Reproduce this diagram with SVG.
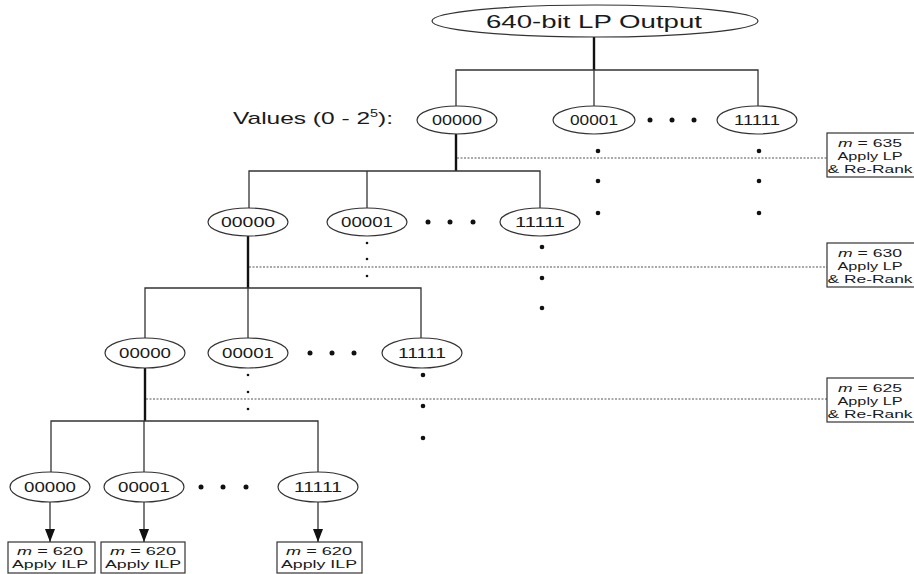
<svg xmlns="http://www.w3.org/2000/svg" width="914" height="574" viewBox="0 0 914 574">
  <style>
    text { font-family: "Liberation Sans", Arial, sans-serif; fill: #1a1a1a; }
    .node ellipse { fill: #ffffff; stroke: #333333; stroke-width: 1.2; }
    .val { font-size: 14px; text-anchor: middle; }
    .wire { stroke: #333333; stroke-width: 1.3; fill: none; }
    .thick { stroke: #111111; stroke-width: 2.4; fill: none; }
    .cut { stroke: #555555; stroke-width: 1; stroke-dasharray: 2 1.5; fill: none; }
    .box rect { fill: #ffffff; stroke: #333333; stroke-width: 1.2; }
    .lbl { font-size: 11.5px; text-anchor: middle; }
    .dot { fill: #111111; }
  </style>
  <defs>
    <!-- solid triangular arrowhead, tip at the end of the line -->
    <marker id="arrow" markerWidth="13" markerHeight="10" refX="13" refY="5" orient="auto" markerUnits="userSpaceOnUse" viewBox="0 0 13 10">
      <path d="M0,0 L13,5 L0,10 Z" fill="#111111"/>
    </marker>
  </defs>
  <rect width="914" height="574" fill="#ffffff"/>

  <!-- connectors -->
  <g id="connectors">
    <!-- root to level 1 -->
    <line class="thick" x1="594" y1="37" x2="594" y2="70"/>
    <polyline class="wire" points="456,106 456,70 758,70 758,106"/>
    <line class="wire" x1="594" y1="70" x2="594" y2="106"/>
    <!-- level 1 to level 2 -->
    <line class="thick" x1="456" y1="134" x2="456" y2="171"/>
    <polyline class="wire" points="249,208 249,171 540,171 540,208"/>
    <line class="wire" x1="367" y1="171" x2="367" y2="208"/>
    <!-- level 2 to level 3 -->
    <line class="thick" x1="248" y1="236" x2="248" y2="288"/>
    <polyline class="wire" points="145,338 145,288 421,288 421,338"/>
    <line class="wire" x1="248" y1="288" x2="248" y2="338"/>
    <!-- level 3 to level 4 -->
    <line class="thick" x1="145" y1="368" x2="145" y2="421"/>
    <polyline class="wire" points="51,472 51,421 318,421 318,472"/>
    <line class="wire" x1="144" y1="421" x2="144" y2="472"/>
    <!-- level 4 to ILP boxes -->
    <line class="wire" x1="50" y1="502" x2="50" y2="542" marker-end="url(#arrow)"/>
    <line class="wire" x1="144" y1="502" x2="144" y2="542" marker-end="url(#arrow)"/>
    <line class="wire" x1="318" y1="502" x2="318" y2="542" marker-end="url(#arrow)"/>
    <!-- re-rank cuts -->
    <line class="cut" x1="457" y1="158" x2="827" y2="158"/>
    <line class="cut" x1="249" y1="267" x2="827" y2="267"/>
    <line class="cut" x1="146" y1="399" x2="827" y2="399"/>
  </g>

  <!-- root -->
  <g id="root" class="node">
    <ellipse cx="595" cy="21" rx="163" ry="16"/>
    <text x="594" y="28" font-size="19" text-anchor="middle" textLength="216" lengthAdjust="spacingAndGlyphs">640-bit LP Output</text>
  </g>

  <text id="values-label" x="233" y="124" font-size="17" textLength="160" lengthAdjust="spacingAndGlyphs">Values (0 - 2<tspan font-size="10" dy="-7">5</tspan><tspan dy="7">):</tspan></text>

  <!-- level 1 -->
  <g id="l1-00000" class="node"><ellipse cx="457" cy="120" rx="40" ry="14"/><text class="val" x="457" y="125" textLength="50" lengthAdjust="spacingAndGlyphs">00000</text></g>
  <g id="l1-00001" class="node"><ellipse cx="594" cy="120" rx="41" ry="14"/><text class="val" x="594" y="125" textLength="48" lengthAdjust="spacingAndGlyphs">00001</text></g>
  <g id="l1-11111" class="node"><ellipse cx="757" cy="120" rx="40" ry="14"/><text class="val" x="757" y="125" textLength="46" lengthAdjust="spacingAndGlyphs">11111</text></g>

  <!-- level 2 -->
  <g id="l2-00000" class="node"><ellipse cx="248" cy="222" rx="40" ry="14"/><text class="val" x="248" y="227" textLength="54" lengthAdjust="spacingAndGlyphs">00000</text></g>
  <g id="l2-00001" class="node"><ellipse cx="367" cy="222" rx="40" ry="14"/><text class="val" x="367" y="227" textLength="52" lengthAdjust="spacingAndGlyphs">00001</text></g>
  <g id="l2-11111" class="node"><ellipse cx="540" cy="222" rx="40" ry="14"/><text class="val" x="540" y="227" textLength="50" lengthAdjust="spacingAndGlyphs">11111</text></g>

  <!-- level 3 -->
  <g id="l3-00000" class="node"><ellipse cx="145" cy="353" rx="40" ry="15"/><text class="val" x="145" y="358" textLength="52" lengthAdjust="spacingAndGlyphs">00000</text></g>
  <g id="l3-00001" class="node"><ellipse cx="248" cy="353" rx="40" ry="15"/><text class="val" x="248" y="358" textLength="52" lengthAdjust="spacingAndGlyphs">00001</text></g>
  <g id="l3-11111" class="node"><ellipse cx="422" cy="353" rx="40" ry="15"/><text class="val" x="422" y="358" textLength="48" lengthAdjust="spacingAndGlyphs">11111</text></g>

  <!-- level 4 -->
  <g id="l4-00000" class="node"><ellipse cx="50" cy="487" rx="40" ry="15"/><text class="val" x="50" y="492" textLength="52" lengthAdjust="spacingAndGlyphs">00000</text></g>
  <g id="l4-00001" class="node"><ellipse cx="144" cy="487" rx="40" ry="15"/><text class="val" x="144" y="492" textLength="52" lengthAdjust="spacingAndGlyphs">00001</text></g>
  <g id="l4-11111" class="node"><ellipse cx="318" cy="487" rx="40" ry="15"/><text class="val" x="318" y="492" textLength="48" lengthAdjust="spacingAndGlyphs">11111</text></g>

  <!-- ellipsis dots -->
  <g id="dots">
    <circle class="dot" cx="650" cy="120" r="2.5"/><circle class="dot" cx="672" cy="120" r="2.5"/><circle class="dot" cx="694" cy="120" r="2.5"/>
    <circle class="dot" cx="428" cy="222" r="2.5"/><circle class="dot" cx="450" cy="222" r="2.5"/><circle class="dot" cx="473" cy="222" r="2.5"/>
    <circle class="dot" cx="310" cy="353" r="2.5"/><circle class="dot" cx="332" cy="353" r="2.5"/><circle class="dot" cx="354" cy="353" r="2.5"/>
    <circle class="dot" cx="201" cy="487" r="2.5"/><circle class="dot" cx="223" cy="487" r="2.5"/><circle class="dot" cx="246" cy="487" r="2.5"/>

    <circle class="dot" cx="598" cy="151" r="2.3"/><circle class="dot" cx="598" cy="181" r="2.3"/><circle class="dot" cx="598" cy="213" r="2.3"/>
    <circle class="dot" cx="759" cy="151" r="2.3"/><circle class="dot" cx="759" cy="181" r="2.3"/><circle class="dot" cx="759" cy="213" r="2.3"/>
    <circle class="dot" cx="367" cy="243" r="1.3"/><circle class="dot" cx="367" cy="259" r="1.3"/><circle class="dot" cx="367" cy="276" r="1.3"/>
    <circle class="dot" cx="542" cy="247" r="2.3"/><circle class="dot" cx="542" cy="278" r="2.3"/><circle class="dot" cx="542" cy="308" r="2.3"/>
    <circle class="dot" cx="248" cy="375" r="1.3"/><circle class="dot" cx="248" cy="392" r="1.3"/><circle class="dot" cx="248" cy="409" r="1.3"/>
    <circle class="dot" cx="423" cy="375" r="2.3"/><circle class="dot" cx="423" cy="406" r="2.3"/><circle class="dot" cx="423" cy="438" r="2.3"/>
  </g>

  <!-- re-rank boxes -->
  <g id="rerank-635" class="box">
    <rect x="827" y="133" width="100" height="44"/>
    <text class="lbl" x="870" y="147" textLength="64" lengthAdjust="spacingAndGlyphs"><tspan font-style="italic">m</tspan> = 635</text>
    <text class="lbl" x="870" y="160" textLength="65" lengthAdjust="spacingAndGlyphs">Apply LP</text>
    <text class="lbl" x="870" y="173" textLength="85" lengthAdjust="spacingAndGlyphs">&amp; Re-Rank</text>
  </g>
  <g id="rerank-630" class="box">
    <rect x="827" y="243" width="100" height="44"/>
    <text class="lbl" x="870" y="257" textLength="64" lengthAdjust="spacingAndGlyphs"><tspan font-style="italic">m</tspan> = 630</text>
    <text class="lbl" x="870" y="270" textLength="65" lengthAdjust="spacingAndGlyphs">Apply LP</text>
    <text class="lbl" x="870" y="283" textLength="85" lengthAdjust="spacingAndGlyphs">&amp; Re-Rank</text>
  </g>
  <g id="rerank-625" class="box">
    <rect x="827" y="378" width="100" height="44"/>
    <text class="lbl" x="870" y="392" textLength="64" lengthAdjust="spacingAndGlyphs"><tspan font-style="italic">m</tspan> = 625</text>
    <text class="lbl" x="870" y="405" textLength="65" lengthAdjust="spacingAndGlyphs">Apply LP</text>
    <text class="lbl" x="870" y="418" textLength="85" lengthAdjust="spacingAndGlyphs">&amp; Re-Rank</text>
  </g>

  <!-- ILP boxes -->
  <g id="ilp-00000" class="box">
    <rect x="8" y="542" width="87" height="31"/>
    <text class="lbl" x="50" y="555" textLength="66" lengthAdjust="spacingAndGlyphs"><tspan font-style="italic">m</tspan> = 620</text>
    <text class="lbl" x="50" y="568" textLength="76" lengthAdjust="spacingAndGlyphs">Apply ILP</text>
  </g>
  <g id="ilp-00001" class="box">
    <rect x="101" y="542" width="84" height="31"/>
    <text class="lbl" x="143" y="555" textLength="66" lengthAdjust="spacingAndGlyphs"><tspan font-style="italic">m</tspan> = 620</text>
    <text class="lbl" x="143" y="568" textLength="76" lengthAdjust="spacingAndGlyphs">Apply ILP</text>
  </g>
  <g id="ilp-11111" class="box">
    <rect x="277" y="542" width="85" height="31"/>
    <text class="lbl" x="319" y="555" textLength="66" lengthAdjust="spacingAndGlyphs"><tspan font-style="italic">m</tspan> = 620</text>
    <text class="lbl" x="319" y="568" textLength="76" lengthAdjust="spacingAndGlyphs">Apply ILP</text>
  </g>
</svg>
